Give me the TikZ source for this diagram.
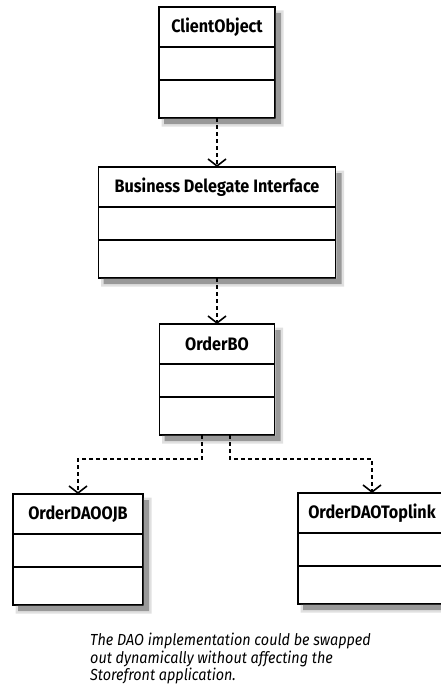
\documentclass[tikz,border=0pt]{standalone}
\usepackage{fontspec}
\setmainfont{Fira Sans}[FakeStretch=0.9]
\usetikzlibrary{arrows.meta,positioning}

\begin{document}
\begin{tikzpicture}[x=1pt, y=-1pt,
    every node/.style={font=\bfseries\fontsize{18}{20}\selectfont},
    part/.style={rectangle, draw, line width=1.6pt, fill=white, outer sep=0pt, inner sep=0pt},
    head/.style={part, minimum height=40pt},
    attrs/.style={part, minimum height=33pt},
    ops/.style={part, minimum height=38pt},
    dep/.style={line width=1.6pt, dash pattern=on 4pt off 3pt,
        -{Straight Barb[length=7pt, width=18pt, line width=1.6pt]}},
]
\useasboundingbox (0,0) rectangle (440,693);

% Client
\node[head, minimum width=116pt] (client) at (217,27) {ClientObject};
\node[attrs, minimum width=116pt, below=0pt of client] (client-attrs) {};
\node[ops, minimum width=116pt, below=0pt of client-attrs] (client-ops) {};

% Business delegate
\node[head, minimum width=237pt] (delegate) at (217,187) {Business Delegate Interface};
\node[attrs, minimum width=237pt, below=0pt of delegate] (delegate-attrs) {};
\node[ops, minimum width=237pt, below=0pt of delegate-attrs] (delegate-ops) {};

% Business object
\node[head, minimum width=115pt] (bo) at (217,344) {OrderBO};
\node[attrs, minimum width=115pt, below=0pt of bo] (bo-attrs) {};
\node[ops, minimum width=115pt, below=0pt of bo-attrs] (bo-ops) {};

% DAO implementations
\node[head, minimum width=130pt] (ojb) at (78,514) {OrderDAOOJB};
\node[attrs, minimum width=130pt, below=0pt of ojb] (ojb-attrs) {};
\node[ops, minimum width=130pt, below=0pt of ojb-attrs] (ojb-ops) {};

\node[head, minimum width=148pt] (toplink) at (372,513) {OrderDAOToplink};
\node[attrs, minimum width=148pt, below=0pt of toplink] (toplink-attrs) {};
\node[ops, minimum width=148pt, below=0pt of toplink-attrs] (toplink-ops) {};

% Shadows: L-shaped strips right of and below each class box
\foreach \c in {client,delegate,bo,ojb,toplink}
    \foreach \g/\e in {12/2.5,40/0} {
        \fill[black!\g]
            ([shift={(0.8,6-\e)}]\c.north east) -- ([shift={(6+\e,6-\e)}]\c.north east)
            -- ([shift={(6+\e,6+\e)}]\c-ops.south east) -- ([shift={(5-\e,6+\e)}]\c-ops.south west)
            -- ([shift={(5-\e,0.8)}]\c-ops.south west) -- ([shift={(0.8,0.8)}]\c-ops.south east)
            -- cycle;
    }

% Dependencies
\draw[dep] (client-ops) -- (delegate);
\draw[dep] (delegate-ops) -- (bo);
\draw[dep] ([xshift=-15pt]bo-ops.south) -- ++(0,24) -| (ojb.north);
\draw[dep] ([xshift=13pt]bo-ops.south) -- ++(0,24) -| (toplink.north);

% Note
\node[font=\itshape\fontsize{16}{17.5}\selectfont, align=left, anchor=north west,
    inner sep=0pt] (note) at (90,633)
    {The DAO implementation could be swapped\\
     out dynamically without affecting the\\
     Storefront application.};
\end{tikzpicture}
\end{document}
